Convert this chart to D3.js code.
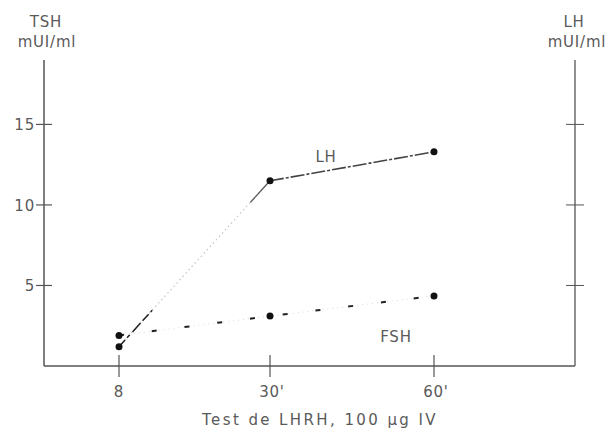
<!DOCTYPE html>
<html>
<head>
<meta charset="utf-8">
<script src="https://cdn.jsdelivr.net/npm/d3@7"></script>
<style>
  body { margin: 0; background: #fff; }
  text { font-family: "DejaVu Sans", "Liberation Sans", sans-serif; fill: #5a5a5a; font-size: 15px; letter-spacing: 0.8px; }
</style>
</head>
<body>
<svg width="609" height="441"></svg>
<script>
// data
const times = [0, 30, 60];
const timeLabels = ['8', "30'", "60'"];
const lhValues = [1.2, 11.5, 13.3];
const fshValues = [1.9, 3.1, 4.35];
const yTicks = [5, 10, 15];

const svg = d3.select('svg');

const plotLeft = 44, plotRight = 575, plotTop = 60, plotBottom = 366;

const x = d3.scaleLinear().domain(times).range([119, 270, 434]);
const y = d3.scaleLinear().domain([0, 19]).range([plotBottom, plotTop]);

const axisColor = '#555';

// left axis
svg.append('line')
    .attr('x1', plotLeft).attr('x2', plotLeft)
    .attr('y1', plotTop).attr('y2', plotBottom)
    .attr('stroke', axisColor).attr('stroke-width', 1.5);

// right axis
svg.append('line')
    .attr('x1', plotRight).attr('x2', plotRight)
    .attr('y1', plotTop).attr('y2', plotBottom)
    .attr('stroke', axisColor).attr('stroke-width', 1.3);

// bottom axis
svg.append('line')
    .attr('x1', plotLeft).attr('x2', plotRight)
    .attr('y1', plotBottom).attr('y2', plotBottom)
    .attr('stroke', axisColor).attr('stroke-width', 1.5);

// left ticks (cross the axis), right ticks unlabelled
yTicks.forEach(v => {
    svg.append('line')
        .attr('x1', plotLeft - 8).attr('x2', plotLeft + 8)
        .attr('y1', y(v)).attr('y2', y(v))
        .attr('stroke', axisColor).attr('stroke-width', 1.2);
    svg.append('text')
        .attr('x', plotLeft - 9)
        .attr('y', y(v) + 6)
        .attr('text-anchor', 'end')
        .text(v);
    svg.append('line')
        .attr('x1', plotRight - 9).attr('x2', plotRight + 9)
        .attr('y1', y(v)).attr('y2', y(v))
        .attr('stroke', axisColor).attr('stroke-width', 1);
});

// bottom ticks
times.forEach((t, i) => {
    svg.append('line')
        .attr('x1', x(t)).attr('x2', x(t))
        .attr('y1', plotBottom - 11).attr('y2', plotBottom + 11)
        .attr('stroke', axisColor).attr('stroke-width', 1.2);
    svg.append('text')
        .attr('x', x(t) + (i ? 2 : 0))
        .attr('y', plotBottom + 31)
        .attr('text-anchor', 'middle')
        .text(timeLabels[i]);
});

// axis titles
svg.append('text').attr('x', 46).attr('y', 27).attr('text-anchor', 'middle').text('TSH');
svg.append('text').attr('x', 47).attr('y', 47).attr('text-anchor', 'middle').text('mUI/ml');
svg.append('text').attr('x', 574).attr('y', 27).attr('text-anchor', 'middle').text('LH');
svg.append('text').attr('x', 577).attr('y', 47).attr('text-anchor', 'middle').text('mUI/ml');
svg.append('text').attr('x', 320).attr('y', 425).attr('text-anchor', 'middle')
    .style('letter-spacing', '2.4px')
    .text('Test de LHRH, 100 \u00b5g IV');

// LH series
const lhPts = times.map((t, i) => [x(t), y(lhValues[i])]);
const along = (a, b, f) => [a[0] + (b[0] - a[0]) * f, a[1] + (b[1] - a[1]) * f];
svg.append('line')
    .attr('x1', lhPts[0][0]).attr('y1', lhPts[0][1])
    .attr('x2', lhPts[1][0]).attr('y2', lhPts[1][1])
    .attr('stroke', '#c4c4c4').attr('stroke-width', 1.2)
    .attr('stroke-dasharray', '1.5,3');
// darker start dashes
const lhStartEnd = along(lhPts[0], lhPts[1], 0.22);
svg.append('line')
    .attr('x1', lhPts[0][0]).attr('y1', lhPts[0][1])
    .attr('x2', lhStartEnd[0]).attr('y2', lhStartEnd[1])
    .attr('stroke', '#222').attr('stroke-width', 1.5)
    .attr('stroke-dasharray', '9,3,4,4,12,3');
const lhRise = along(lhPts[0], lhPts[1], 0.87);
svg.append('line')
    .attr('x1', lhRise[0]).attr('y1', lhRise[1])
    .attr('x2', lhPts[1][0]).attr('y2', lhPts[1][1])
    .attr('stroke', '#555').attr('stroke-width', 1.3);
svg.append('line')
    .attr('x1', lhPts[1][0]).attr('y1', lhPts[1][1])
    .attr('x2', lhPts[2][0]).attr('y2', lhPts[2][1])
    .attr('stroke', '#444').attr('stroke-width', 1.6)
    .attr('stroke-dasharray', '14,2,3,2');

// FSH series
const fshPts = times.map((t, i) => [x(t), y(fshValues[i])]);
svg.append('path')
    .attr('d', d3.line()(fshPts))
    .attr('fill', 'none')
    .attr('stroke', '#d0d0d0').attr('stroke-width', 0.8)
    .attr('stroke-dasharray', '1,4');
svg.append('path')
    .attr('d', d3.line()(fshPts))
    .attr('fill', 'none')
    .attr('stroke', '#222').attr('stroke-width', 2)
    .attr('stroke-dasharray', '5,28');

// dots
svg.selectAll('.lh-dot').data(lhPts).enter().append('circle')
    .attr('class', 'lh-dot')
    .attr('cx', d => d[0]).attr('cy', d => d[1]).attr('r', 3.5).attr('fill', '#111');
svg.selectAll('.fsh-dot').data(fshPts).enter().append('circle')
    .attr('class', 'fsh-dot')
    .attr('cx', d => d[0]).attr('cy', d => d[1]).attr('r', 3.5).attr('fill', '#111');

// series labels
svg.append('text').attr('x', 326).attr('y', 162).attr('text-anchor', 'middle').text('LH');
svg.append('text').attr('x', 396).attr('y', 342).attr('text-anchor', 'middle').text('FSH');
</script>
</body>
</html>
